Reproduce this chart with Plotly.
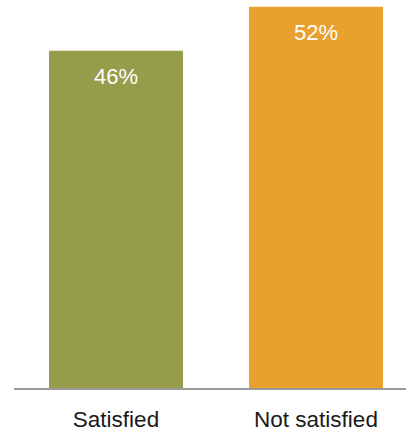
import plotly.graph_objects as go

categories = ["Satisfied", "Not satisfied"]
values = [46, 52]
labels = ["46%", "52%"]
colors = ["#969D4A", "#E8A02F"]

fig = go.Figure()
fig.add_trace(go.Bar(
    x=categories, y=values, marker=dict(color=colors, line=dict(width=0)),
    width=0.67, hoverinfo="skip",
))
for c, v, t in zip(categories, values, labels):
    fig.add_annotation(x=c, y=v, text=t, showarrow=False, yanchor="middle",
                       yshift=-26, font=dict(color="white", size=22, family="Liberation Sans"))

fig.update_layout(
    width=406, height=430,
    margin=dict(l=14, r=0, t=0, b=42),
    paper_bgcolor="white", plot_bgcolor="white",
    showlegend=False,
    xaxis=dict(range=[-0.51, 1.45], showline=True, linecolor="#999999", linewidth=2,
               showgrid=False, zeroline=False, ticks="", ticklabelstandoff=10,
               automargin=False,
               tickfont=dict(size=22.5, color="#1a1a1a", family="Liberation Sans")),
    yaxis=dict(range=[0, 52.93], visible=False, showgrid=False, zeroline=False,
               automargin=False),
)
fig.write_html("out.html", config={"displayModeBar": False},
               post_script="document.body.style.margin='0';document.body.style.overflow='hidden';")
